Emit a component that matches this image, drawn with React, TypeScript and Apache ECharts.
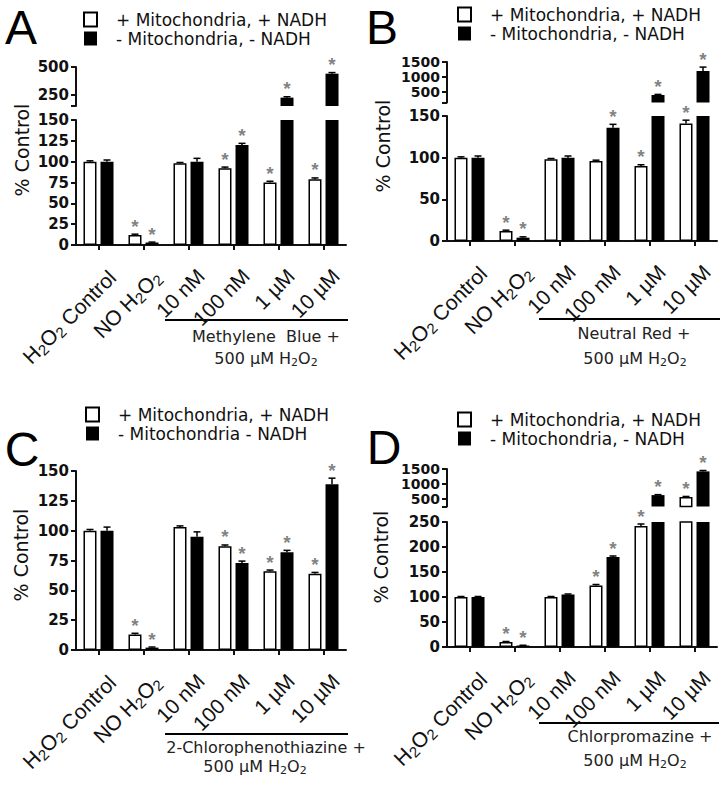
import React, { useEffect, useRef } from 'react';
import * as echarts from 'echarts';

// ---------- data ----------
const categories = ['H2O2 Control', 'NO H2O2', '10 nM', '100 nM', '1 µM', '10 µM'];
const legendWith = '+ Mitochondria, + NADH';
const legendWithout = '- Mitochondria, - NADH';
const legendWithoutC = '- Mitochondria - NADH';

// Panel A – Methylene Blue
const aWith = [100, 12, 98, 92, 75, 79];
const aWithErr = [1, 1, 1, 1.5, 1.5, 1.5];
const aWithSig = [0, 1, 0, 1, 1, 1];
const aWithout = [100, 3, 100, 120, 225, 440];
const aWithoutErr = [2, 0.5, 4, 2, 8, 10];
const aWithoutSig = [0, 1, 0, 1, 1, 1];
const aLowerRange = [0, 150];
const aLowerStep = 25;
const aUpperRange = [150, 500];
const aUpperLabels = [250, 500];

// Panel B – Neutral Red
const bWith = [100, 12, 98, 96, 90, 141];
const bWithErr = [1, 1, 1, 1, 1.5, 4];
const bWithSig = [0, 1, 0, 0, 1, 1];
const bWithout = [100, 4, 100, 136, 400, 1200];
const bWithoutErr = [2, 1, 2, 4, 20, 130];
const bWithoutSig = [0, 1, 0, 1, 1, 1];
const bLowerRange = [0, 150];
const bLowerStep = 50;
const bUpperRange = [150, 1500];
const bUpperLabels = [500, 1000, 1500];

// Panel C – 2-Chlorophenothiazine
const cWith = [100, 13, 103, 87, 66, 64];
const cWithErr = [1, 1, 1, 1, 1, 1];
const cWithSig = [0, 1, 0, 1, 1, 1];
const cWithout = [100, 2, 95, 73, 82, 139];
const cWithoutErr = [3, 0.5, 4, 1.5, 1.5, 5];
const cWithoutSig = [0, 1, 0, 1, 1, 1];
const cRange = [0, 150];
const cStep = 25;

// Panel D – Chlorpromazine
const dWith = [100, 10, 100, 123, 242, 570];
const dWithErr = [1, 1, 1, 2, 4, 15];
const dWithSig = [0, 1, 0, 1, 1, 1];
const dWithout = [100, 3, 105, 180, 630, 1420];
const dWithoutErr = [1, 0.5, 1, 2, 15, 30];
const dWithoutSig = [0, 1, 0, 1, 1, 1];
const dLowerRange = [0, 250];
const dLowerStep = 50;
const dUpperRange = [250, 1500];
const dUpperLabels = [500, 1000, 1500];

// ---------- style ----------
const FONT = 'DejaVu Sans';
const ARIAL = 'Liberation Sans';
const INK = '#111';
const STAR = '#808080';
const BAR_W = 13;
const BAR_GAP = '31%';
const HALF = (BAR_W + 4) / 2;

type Seg = {
  top: number;
  height: number;
  range: number[];
  step?: number;
  labels?: number[];
  labelSize: number;
  upper: boolean;
};

type Panel = {
  left: number;
  width: number;
  segs: Seg[];
  withVals: number[];
  withErr: number[];
  withSig: number[];
  woVals: number[];
  woErr: number[];
  woSig: number[];
  names: string[];
  legendLeft: number;
  legendTop: number;
};

const makeRender = (offset: number, seg: Seg) => (_params: any, api: any) => {
  const v = api.value(1);
  const inside = seg.upper ? v > seg.range[0] : v <= seg.range[1];
  if (!inside) return null;
  const e = api.value(2);
  const sig = api.value(3);
  const base = api.coord([api.value(0), v]);
  const top = api.coord([api.value(0), v + e]);
  const x = base[0] + offset;
  const children: any[] = [];
  if (e > 0) {
    children.push({
      type: 'line',
      shape: { x1: x, y1: base[1], x2: x, y2: top[1] },
      style: { stroke: '#000', lineWidth: 1.5 },
    });
    children.push({
      type: 'line',
      shape: { x1: x - 3.5, y1: top[1], x2: x + 3.5, y2: top[1] },
      style: { stroke: '#000', lineWidth: 1.5 },
    });
  }
  if (sig) {
    children.push({
      type: 'text',
      x,
      y: top[1] - 8,
      style: {
        text: '*',
        align: 'center',
        verticalAlign: 'middle',
        fontSize: 19,
        fontWeight: 'bold',
        fontFamily: ARIAL,
        fill: STAR,
        opacity: 0.99,
      },
    });
  }
  return { type: 'group', children };
};

function buildOption(panels: Panel[]) {
  const grid: any[] = [];
  const xAxis: any[] = [];
  const yAxis: any[] = [];
  const series: any[] = [];
  const legend: any[] = [];

  panels.forEach((p) => {
    p.segs.forEach((s) => {
      const gi = grid.length;
      grid.push({ left: p.left, top: s.top, width: p.width, height: s.height, containLabel: false });
      xAxis.push({
        gridIndex: gi,
        type: 'category',
        data: categories,
        show: !s.upper,
        boundaryGap: true,
        axisLine: { show: true, lineStyle: { color: INK, width: 2 } },
        axisTick: { show: true, alignWithLabel: true, length: 5, lineStyle: { color: INK, width: 2 } },
        axisLabel: {
          rotate: 45,
          interval: 0,
          margin: 15,
          fontFamily: ARIAL,
          fontSize: 21,
          color: INK,
          verticalAlign: 'top',
          padding: [7, 0, 0, 0],
          formatter: (v: string) => v.replace(/([HO])2/g, '$1{s|2}'),
          rich: { s: { fontFamily: ARIAL, fontSize: 15, color: INK, padding: [10, 0, 0, 0] } },
        },
        splitLine: { show: false },
      });
      const y: any = {
        gridIndex: gi,
        type: 'value',
        min: s.range[0],
        max: s.range[1],
        axisLine: { show: true, lineStyle: { color: INK, width: 2 } },
        axisTick: { show: true, length: 5, lineStyle: { color: INK, width: 2 } },
        axisLabel: {
          margin: 7,
          fontFamily: FONT,
          fontWeight: 'bold',
          fontSize: s.labelSize,
          color: INK,
          formatter: (v: number) => String(v),
        },
        splitLine: { show: false },
      };
      if (s.step) y.interval = s.step;
      if (s.labels) {
        y.axisLabel.customValues = s.labels;
        y.axisTick.customValues = [s.range[0], ...s.labels];
      }
      yAxis.push(y);

      const groups = [
        {
          name: p.names[0],
          vals: p.withVals,
          err: p.withErr,
          sig: p.withSig,
          offset: -HALF,
          style: { color: '#fff', borderColor: '#000', borderWidth: 1.5 },
        },
        {
          name: p.names[1],
          vals: p.woVals,
          err: p.woErr,
          sig: p.woSig,
          offset: HALF,
          style: { color: '#000', borderColor: '#000', borderWidth: 0 },
        },
      ];
      groups.forEach((g) => {
        series.push({
          type: 'bar',
          name: g.name,
          xAxisIndex: gi,
          yAxisIndex: gi,
          data: g.vals.map((v) => (!s.upper || v > s.range[0] ? v : '-')),
          barWidth: BAR_W,
          barGap: BAR_GAP,
          itemStyle: g.style,
          clip: true,
          silent: true,
          emphasis: { disabled: true },
        });
      });
      groups.forEach((g) => {
        series.push({
          type: 'custom',
          name: 'error',
          xAxisIndex: gi,
          yAxisIndex: gi,
          itemStyle: { color: STAR },
          data: g.vals.map((v, i) => [i, v, g.err[i], g.sig[i]]),
          encode: { x: 0, y: 1 },
          renderItem: makeRender(g.offset, s),
          z: 5,
          silent: true,
        });
      });
    });
    legend.push({
      orient: 'vertical',
      left: p.legendLeft,
      top: p.legendTop,
      padding: 0,
      itemWidth: 13,
      itemHeight: 14,
      itemGap: 0,
      icon: 'rect',
      selectedMode: false,
      data: p.names,
      textStyle: { fontFamily: FONT, fontSize: 17, color: INK, lineHeight: 19, padding: [0, 0, 0, 14] },
    });
  });
  return { grid, xAxis, yAxis, series, legend };
}

const subRich = { s: { fontFamily: FONT, fontSize: 11, fill: '#222', padding: [8, 0, 0, 0] } };

function letter(t: string, x: number, y: number) {
  return {
    type: 'text',
    x,
    y,
    style: {
      text: t,
      fontFamily: ARIAL,
      fontSize: 48,
      fill: '#000',
      align: 'center',
      verticalAlign: 'middle',
    },
  };
}
function yTitle(x: number, y: number) {
  return {
    type: 'text',
    x,
    y,
    rotation: Math.PI / 2,
    style: { text: '% Control', fontFamily: FONT, fontSize: 19, fill: INK, align: 'center', verticalAlign: 'middle' },
  };
}
function bracket(x1: number, x2: number, y: number) {
  return { type: 'line', shape: { x1, y1: y, x2, y2: y }, style: { stroke: '#000', lineWidth: 2 } };
}
function note(t: string, x: number, y: number) {
  return {
    type: 'text',
    x,
    y,
    style: { text: t, fontFamily: FONT, fontSize: 16, fill: '#222', align: 'center', verticalAlign: 'middle', rich: subRich },
  };
}

export default function App() {
  const ref = useRef<HTMLDivElement>(null);
  useEffect(() => {
    if (!ref.current) return;
    const chart = echarts.init(ref.current, undefined, { renderer: 'svg' });
    const built = buildOption([
      {
        left: 76,
        width: 270,
        segs: [
          { top: 120, height: 125, range: aLowerRange, step: aLowerStep, labelSize: 15, upper: false },
          { top: 67, height: 39, range: aUpperRange, labels: aUpperLabels, labelSize: 15, upper: true },
        ],
        withVals: aWith, withErr: aWithErr, withSig: aWithSig,
        woVals: aWithout, woErr: aWithoutErr, woSig: aWithoutSig,
        names: [legendWith, legendWithout],
        legendLeft: 83, legendTop: 10,
      },
      {
        left: 447,
        width: 270,
        segs: [
          { top: 116, height: 125, range: bLowerRange, step: bLowerStep, labelSize: 15, upper: false },
          { top: 62, height: 40.5, range: bUpperRange, labels: bUpperLabels, labelSize: 14, upper: true },
        ],
        withVals: bWith, withErr: bWithErr, withSig: bWithSig,
        woVals: bWithout, woErr: bWithoutErr, woSig: bWithoutSig,
        names: [legendWith, legendWithout],
        legendLeft: 457, legendTop: 5,
      },
      {
        left: 76,
        width: 270,
        segs: [{ top: 471, height: 179, range: cRange, step: cStep, labelSize: 15, upper: false }],
        withVals: cWith, withErr: cWithErr, withSig: cWithSig,
        woVals: cWithout, woErr: cWithoutErr, woSig: cWithoutSig,
        names: [legendWith, legendWithoutC],
        legendLeft: 85, legendTop: 405,
      },
      {
        left: 447,
        width: 270,
        segs: [
          { top: 522, height: 125, range: dLowerRange, step: dLowerStep, labelSize: 15, upper: false },
          { top: 469, height: 37.5, range: dUpperRange, labels: dUpperLabels, labelSize: 14, upper: true },
        ],
        withVals: dWith, withErr: dWithErr, withSig: dWithSig,
        woVals: dWithout, woErr: dWithoutErr, woSig: dWithoutSig,
        names: [legendWith, legendWithout],
        legendLeft: 457, legendTop: 410,
      },
    ]);
    chart.setOption({
      animation: false,
      backgroundColor: '#fff',
      ...built,
      graphic: [
        letter('A', 21, 27.5),
        letter('B', 382, 27.5),
        letter('C', 22, 449),
        letter('D', 384, 447),
        yTitle(22, 150),
        yTitle(383, 146),
        yTitle(21, 555),
        yTitle(381, 557),
        bracket(165, 348, 320),
        bracket(539, 720, 319),
        bracket(165, 348, 734),
        bracket(539, 719, 723),
        note('Methylene  Blue +', 266, 336),
        note('500 µM H{s|2}O{s|2}', 266, 358),
        note('Neutral Red +', 634, 333),
        note('500 µM H{s|2}O{s|2}', 635, 358),
        note('2-Chlorophenothiazine +', 266, 747),
        note('500 µM H{s|2}O{s|2}', 255, 766),
        note('Chlorpromazine +', 640, 736),
        note('500 µM H{s|2}O{s|2}', 635, 760),
      ],
    });
    return () => chart.dispose();
  }, []);
  return <div ref={ref} style={{ position: 'fixed', left: 0, top: 0, width: 725, height: 786 }} />;
}
